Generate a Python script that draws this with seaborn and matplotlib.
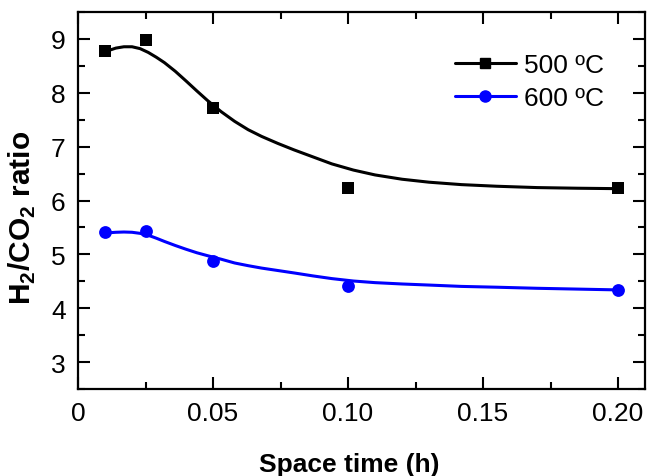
import numpy as np
import pandas as pd
import matplotlib
matplotlib.use("Agg")
import matplotlib.pyplot as plt
import seaborn as sns
from matplotlib.lines import Line2D
from matplotlib.ticker import MultipleLocator

# measured points
space_time = [0.01, 0.025, 0.05, 0.10, 0.20]
ratio_500 = [8.77, 8.98, 7.72, 6.23, 6.23]
ratio_600 = [5.41, 5.44, 4.88, 4.42, 4.34]

# fitted curves
fit_x = [0.011, 0.014, 0.017, 0.020, 0.023, 0.026, 0.029, 0.032, 0.036, 0.040,
         0.044, 0.048, 0.053, 0.058, 0.063, 0.068, 0.074, 0.080, 0.087, 0.094,
         0.102, 0.110, 0.120, 0.130, 0.142, 0.155, 0.170, 0.185, 0.200]
fit_500 = [8.78, 8.83, 8.855, 8.855, 8.82, 8.75, 8.66, 8.56, 8.40, 8.22,
           8.035, 7.855, 7.65, 7.47, 7.315, 7.19, 7.06, 6.94, 6.81, 6.68,
           6.565, 6.475, 6.395, 6.34, 6.295, 6.265, 6.24, 6.228, 6.22]
fit_600 = [5.40, 5.41, 5.415, 5.41, 5.39, 5.355, 5.30, 5.24, 5.165, 5.095,
           5.03, 4.975, 4.91, 4.84, 4.79, 4.745, 4.70, 4.655, 4.60, 4.55,
           4.505, 4.475, 4.45, 4.43, 4.405, 4.39, 4.37, 4.355, 4.34]

labels = ["500 ºC", "600 ºC"]
colors = ["black", "#0000ff"]
markers = ["s", "o"]

sns.set_style("ticks")
plt.rcParams["font.family"] = ["Liberation Sans", "DejaVu Sans"]
plt.rcParams["mathtext.fontset"] = "custom"
plt.rcParams["mathtext.rm"] = "Liberation Sans"
plt.rcParams["mathtext.bf"] = "Liberation Sans:bold"
plt.rcParams["text.color"] = "black"
plt.rcParams["axes.labelcolor"] = "black"

fig = plt.figure(figsize=(6.47, 4.77), dpi=100)
ax = fig.add_axes([0.1206, 0.1824, 0.8764, 0.7903])

pts = pd.DataFrame({"x": space_time * 2,
                    "y": ratio_500 + ratio_600,
                    "T": [labels[0]] * 5 + [labels[1]] * 5})
fits = pd.DataFrame({"x": fit_x * 2,
                     "y": fit_500 + fit_600,
                     "T": [labels[0]] * len(fit_x) + [labels[1]] * len(fit_x)})

sns.lineplot(data=fits, x="x", y="y", hue="T", palette=colors, linewidth=2.2,
             legend=False, ax=ax, sort=False)
for lab, col, mk, ms in zip(labels, colors, markers, [75, 85]):
    sub = pts[pts["T"] == lab]
    sns.scatterplot(x=sub["x"], y=sub["y"], color=col, marker=mk, s=ms,
                    edgecolor=col, linewidth=0, ax=ax, legend=False, zorder=3)

ax.set_xlim(0, 0.21)
ax.set_ylim(2.5, 9.5)
ax.set_xticks([0, 0.05, 0.10, 0.15, 0.20])
ax.set_xticklabels(["0", "0.05", "0.10", "0.15", "0.20"])
ax.xaxis.set_minor_locator(MultipleLocator(0.025))
ax.set_yticks([3, 4, 5, 6, 7, 8, 9])
ax.yaxis.set_minor_locator(MultipleLocator(0.5))
ax.tick_params(which="both", direction="in", top=True, right=True, width=1.5,
               labelsize=19, colors="black", labelcolor="black")
ax.tick_params(which="major", length=8.5, pad=9)
ax.tick_params(which="minor", length=4.8)
for sp in ax.spines.values():
    sp.set_linewidth(1.6)
    sp.set_color("black")

ax.set_xlabel("Space time (h)", fontsize=19, fontweight="bold", labelpad=19)
ax.xaxis.label.set_x(0.478)
ax.set_ylabel(r"H$_\mathbf{2}$/CO$_\mathbf{2}$ ratio", fontsize=21.5, fontweight="bold", labelpad=9)
ax.yaxis.label.set_y(0.456)

handles = [Line2D([], [], color=c, marker=m, markersize=ms, linewidth=2.2)
           for c, m, ms in zip(colors, markers, [7, 8])]
ax.legend(handles, labels, loc="upper right", bbox_to_anchor=(0.969, 0.954), frameon=False,
          fontsize=19, handlelength=2.3, handletextpad=0.3, labelspacing=0.35)

fig.savefig("out.png", dpi=100)
